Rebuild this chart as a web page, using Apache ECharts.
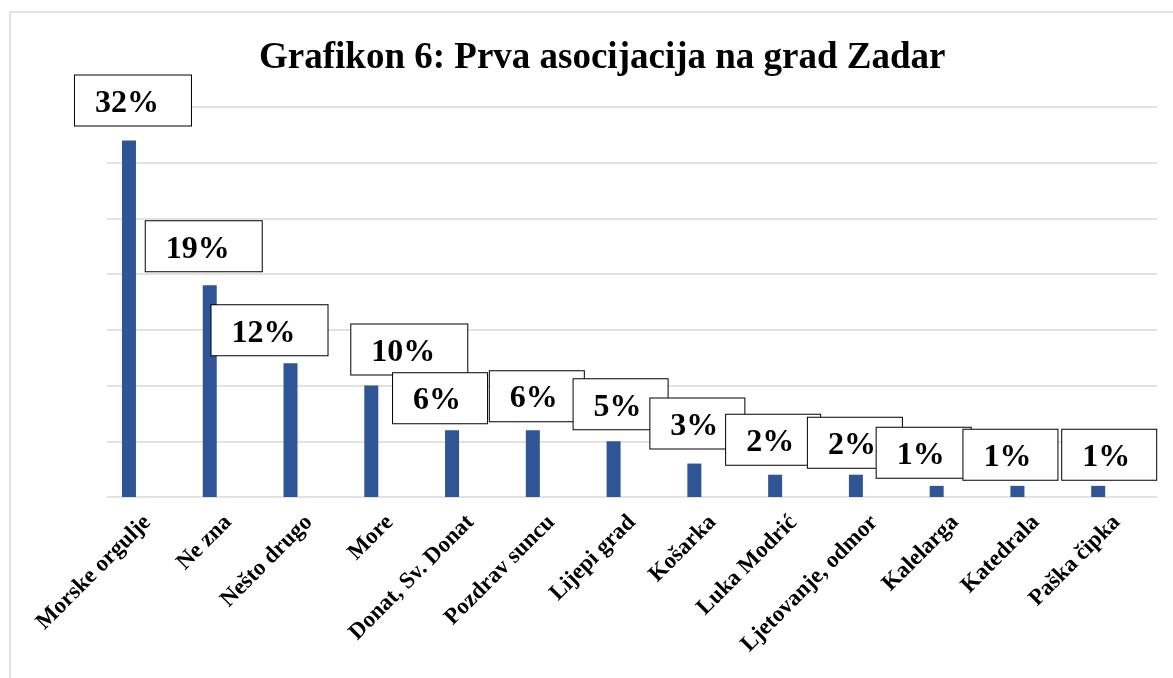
<!DOCTYPE html>
<html>
<head>
<meta charset="utf-8">
<title>Grafikon 6</title>
<script src="https://cdn.jsdelivr.net/npm/echarts@6/dist/echarts.min.js"></script>
<style>
html, body { margin: 0; padding: 0; background: #fff; }
#chart { width: 1173px; height: 678px; }
</style>
</head>
<body>
<div id="chart"></div>
<script>
var categories = ['Morske orgulje', 'Ne zna', 'Nešto drugo', 'More', 'Donat, Sv. Donat', 'Pozdrav suncu',
    'Lijepi grad', 'Košarka', 'Luka Modrić', 'Ljetovanje, odmor', 'Kalelarga', 'Katedrala', 'Paška čipka'];
var shares = [32, 19, 12, 10, 6, 6, 5, 3, 2, 2, 1, 1, 1];
// excel chart had a second (empty) series, keeps the bars left of the category centre
var emptySeries = ['-', '-', '-', '-', '-', '-', '-', '-', '-', '-', '-', '-', '-'];
var yTicks = { min: 0, max: 35, step: 5 };

// data label boxes were dragged around by hand in the original: [dx, dy]
var labelNudge = [[4, -10], [-6, -9], [-21, -3], [38, -6], [-12, -2], [4, -4], [7, -7],
    [3, -10], [-2, -5], [-1, -2], [-13, -3], [-7, -1], [11, -1]];

var FONT = "'Liberation Serif', 'Times New Roman', serif";

var Chart = {
    build : function() {
        var barData = [];
        $each(shares, function(i, v) {
            var short = String(v).length < 2;
            barData.push({
                value : v,
                label : {
                    offset : labelNudge[i],
                    padding : short ? [12, 26, 6, 20] : [12, 32, 6, 20]
                }
            });
        });
        var option = {
            backgroundColor : '#fff',
            animation : false,
            title : {
                text : 'Grafikon 6: Prva asocijacija na grad Zadar',
                left : 254,
                top : 35,
                textStyle : {
                    fontFamily : FONT,
                    fontWeight : 'bold',
                    fontSize : 37,
                    color : '#000'
                }
            },
            graphic : [{
                type : 'rect',
                shape : { x : 10, y : 12, width : 1200, height : 700 },
                style : { fill : 'none', stroke : '#d9d9d9', lineWidth : 1.5 },
                silent : true,
                z : -1
            }],
            grid : { left : 107, right : 16, top : 107, bottom : 181 },
            xAxis : {
                type : 'category',
                data : categories,
                axisLine : { show : false },
                axisTick : { show : false },
                axisLabel : {
                    interval : 0,
                    rotate : 45,
                    margin : 22,
                    fontFamily : FONT,
                    fontWeight : 'bold',
                    fontSize : 23,
                    color : '#000'
                }
            },
            yAxis : {
                type : 'value',
                min : yTicks.min,
                max : yTicks.max,
                interval : yTicks.step,
                axisLabel : { show : false },
                axisLine : { show : false },
                axisTick : { show : false },
                splitLine : { lineStyle : { color : '#d9d9d9', width : 1.5 } }
            },
            series : [{
                type : 'bar',
                data : barData,
                barWidth : 14,
                barGap : '163%',
                itemStyle : { color : '#2f5597' },
                label : {
                    show : true,
                    position : 'top',
                    distance : 5,
                    formatter : '{c}%',
                    fontFamily : FONT,
                    fontWeight : 'bold',
                    fontSize : 32,
                    color : '#000',
                    backgroundColor : '#fff',
                    borderColor : '#000',
                    borderWidth : 1
                }
            }, {
                type : 'bar',
                data : emptySeries,
                barWidth : 14,
                silent : true
            }]
        };
        return option;
    }
};

function $each(arr, fn) {
    for (var i = 0; i < arr.length; i++) fn(i, arr[i]);
}

var myChart = echarts.init(document.getElementById('chart'));
myChart.setOption(Chart.build());
</script>
</body>
</html>
